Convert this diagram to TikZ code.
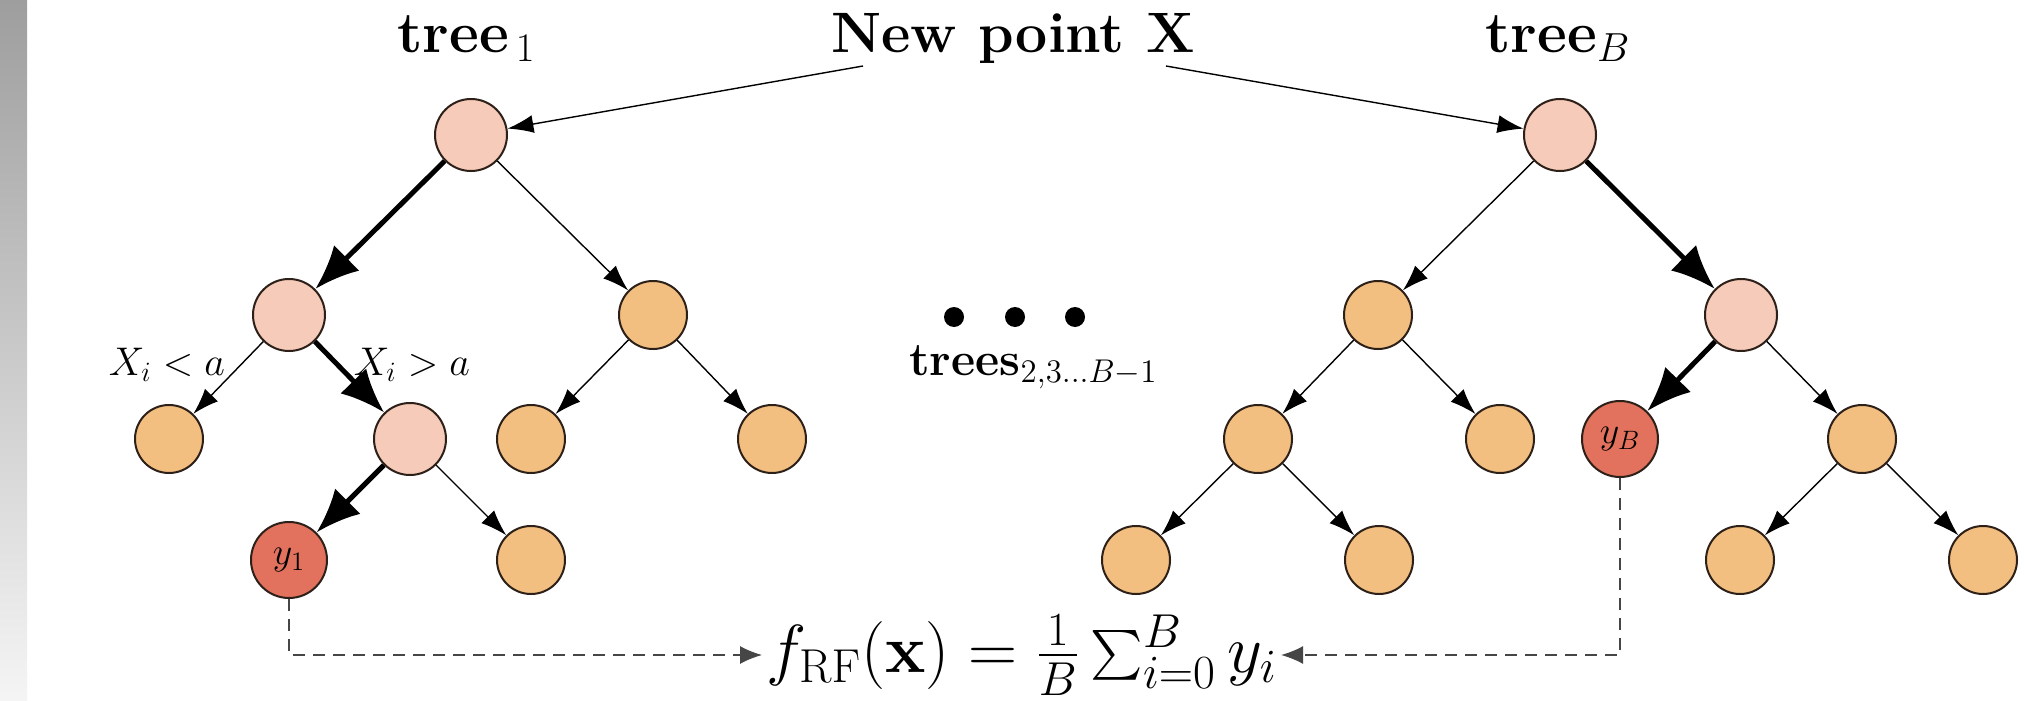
\RequirePackage{fix-cm}
\documentclass[tikz,border=0pt]{standalone}
\usepackage{exscale}
\usetikzlibrary{arrows.meta}
\definecolor{pinkc}{RGB}{246,203,186}
\definecolor{orangec}{RGB}{243,191,128}
\definecolor{redc}{RGB}{226,114,94}
\definecolor{edgec}{RGB}{45,32,25}
\definecolor{dashc}{RGB}{70,70,70}
\begin{document}
\begin{tikzpicture}[x=0.5pt,y=-0.5pt,
  basenode/.style={circle, draw=edgec, line width=1pt, inner sep=0pt},
  pnode/.style={basenode, fill=pinkc, minimum size=36pt},
  onode/.style={basenode, fill=orangec, minimum size=34pt},
  rnode/.style={basenode, fill=redc, minimum size=38pt, font=\fontsize{19}{22}\selectfont},
  thn/.style={-{Latex[length=13pt,width=9pt]}, line width=0.7pt},
  thk/.style={-{Latex[length=22pt,width=18pt]}, line width=2.5pt},
  dsh/.style={-{Latex[length=11pt,width=9pt]}, line width=0.7pt, draw=dashc, dash pattern=on 6pt off 4pt},
  title/.style={font=\fontsize{29}{34}\selectfont, inner sep=0pt, anchor=base west},
  cond/.style={font=\fontsize{20}{24}\selectfont, inner sep=0pt, anchor=base},
  dot/.style={circle, fill=black, minimum size=10pt, inner sep=0pt}
]
\useasboundingbox (0,0) rectangle (2024,701);
\fill[white] (0,0) rectangle (2024,701);
\shade[top color=black!38, bottom color=black!4] (0,0) rectangle (27,701);

% titles
\node[title] (t1) at (397,53) {\textbf{tree}$_{\,1}$};
\node[font=\fontsize{28.5}{33}\selectfont, inner sep=0pt, anchor=base] (nx) at (1013,53) {\textbf{New point X}};
\node[title] (tB) at (1485,53) {\textbf{tree}$_{B}$};
\coordinate (s1) at (863,66);
\coordinate (s2) at (1166,66);

% tree 1
\node[pnode] (a0) at (471,135) {};
\node[pnode] (a1) at (289,315) {};
\node[onode] (a2) at (653,315) {};
\node[onode] (a3) at (169,439) {};
\node[pnode] (a4) at (410,439) {};
\node[onode] (a5) at (531,439) {};
\node[onode] (a6) at (772,439) {};
\node[rnode] (a7) at (289,560) {$y_1$};
\node[onode] (a8) at (531,560) {};

% tree B
\node[pnode] (b0) at (1560,135) {};
\node[onode] (b1) at (1378,315) {};
\node[pnode] (b2) at (1741,315) {};
\node[onode] (b3) at (1258,439) {};
\node[onode] (b4) at (1500,439) {};
\node[rnode] (b5) at (1620,439) {$y_B$};
\node[onode] (b6) at (1862,439) {};
\node[onode] (b7) at (1136,560) {};
\node[onode] (b8) at (1379,560) {};
\node[onode] (b9) at (1740,560) {};
\node[onode] (b10) at (1983,560) {};

% input arrows
\draw[thn] (s1) -- (a0);
\draw[thn] (s2) -- (b0);

% tree 1 edges
\draw[thk] (a0) -- (a1);
\draw[thn] (a0) -- (a2);
\draw[thn] (a1) -- (a3);
\draw[thk] (a1) -- (a4);
\draw[thn] (a2) -- (a5);
\draw[thn] (a2) -- (a6);
\draw[thk] (a4) -- (a7);
\draw[thn] (a4) -- (a8);

% tree B edges
\draw[thn] (b0) -- (b1);
\draw[thk] (b0) -- (b2);
\draw[thn] (b1) -- (b3);
\draw[thn] (b1) -- (b4);
\draw[thk] (b2) -- (b5);
\draw[thn] (b2) -- (b6);
\draw[thn] (b3) -- (b7);
\draw[thn] (b3) -- (b8);
\draw[thn] (b6) -- (b9);
\draw[thn] (b6) -- (b10);

% split labels
\node[cond] (c1) at (167,375) {$X_i < a$};
\node[cond] (c2) at (412,375) {$X_i > a$};

% dots and other trees
\node[dot] (d1) at (954,317) {};
\node[dot] (d2) at (1015,317) {};
\node[dot] (d3) at (1075,317) {};
\node[font=\fontsize{23.5}{27}\selectfont, inner sep=0pt, anchor=base west] (tr) at (909,375) {\textbf{trees}$_{2,3\ldots B-1}$};

% formula
\node[font=\fontsize{34}{38}\selectfont, inner sep=2pt, anchor=west] (f) at (762,655)
  {$f_{\mathrm{RF}}(\mathbf{x}) = \frac{1}{B}\sum_{i=0}^{B} y_i$};
\draw[dsh] (a7.south) |- (f.west);
\draw[dsh] (b5.south) |- (f.east);
\end{tikzpicture}
\end{document}
